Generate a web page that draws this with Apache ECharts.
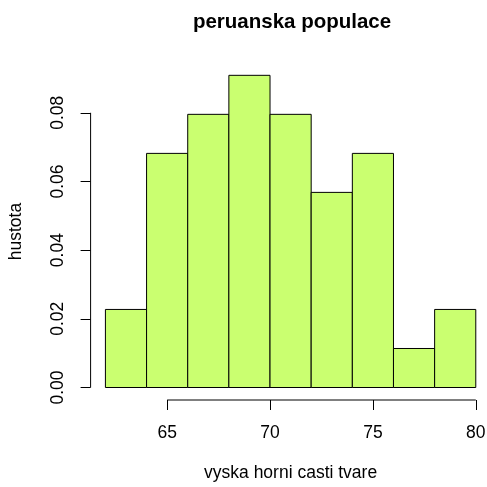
<!DOCTYPE html>
<html>
<head>
<meta charset="utf-8">
<script src="https://cdn.jsdelivr.net/npm/echarts@6/dist/echarts.min.js"></script>
<style>
  html, body { margin: 0; padding: 0; background: #fff; }
  #chart { width: 487px; height: 487px; }
</style>
</head>
<body>
<div id="chart"></div>
<script>
// Histogram bins (left edges / right edges) and density per bin
const binStarts = [62, 64, 66, 68, 70, 72, 74, 76, 78];
const binEnds   = [64, 66, 68, 70, 72, 74, 76, 78, 80];
const densities = [0.02273, 0.06818, 0.07955, 0.09091, 0.07955, 0.05682, 0.06818, 0.01136, 0.02273];
const xTicks = [65, 70, 75, 80];
const yTicks = [0, 0.02, 0.04, 0.06, 0.08];

// plotting ranges padded by 4% on each side, like base R graphics
const xMin = 61.28, xMax = 80.72;
const yMin = -0.00364, yMax = 0.0945;

const FONT = 'Liberation Sans, Arial, sans-serif';
const LABEL_SIZE = 17.5;
const chart = echarts.init(document.getElementById('chart'), null, { renderer: 'canvas' });

const barData = binStarts.map((s, i) => [s, binEnds[i], densities[i]]);

chart.setOption({
  animation: false,
  backgroundColor: '#ffffff',
  title: {
    text: 'peruanska populace',
    left: 287, top: 7, textAlign: 'center',
    textStyle: { fontFamily: FONT, fontSize: 20.5, fontWeight: 'bold', color: '#000' }
  },
  grid: { left: 90.6, top: 63, width: 400, height: 337, outerBoundsMode: 'none', containLabel: false },
  xAxis: {
    type: 'value', min: xMin, max: xMax,
    name: 'vyska horni casti tvare', nameLocation: 'middle', nameGap: 64, nameMoveOverlap: false,
    nameTextStyle: { fontFamily: FONT, fontSize: LABEL_SIZE, color: '#000' },
    axisLine: { show: false, onZero: false },
    splitLine: { show: false },
    axisTick: { show: true, length: 10, customValues: xTicks, lineStyle: { color: '#000', width: 1 } },
    axisLabel: { customValues: xTicks, margin: 24, fontFamily: FONT, fontSize: LABEL_SIZE, color: '#000' }
  },
  yAxis: {
    type: 'value', min: yMin, max: yMax,
    name: 'hustota', nameLocation: 'middle', nameGap: 65, nameRotate: 90, nameMoveOverlap: false,
    nameTextStyle: { fontFamily: FONT, fontSize: LABEL_SIZE, color: '#000' },
    axisLine: { show: false, onZero: false },
    splitLine: { show: false },
    axisTick: { show: true, length: 10, customValues: yTicks, lineStyle: { color: '#000', width: 1 } },
    axisLabel: {
      customValues: yTicks, rotate: 90, margin: 23,
      fontFamily: FONT, fontSize: LABEL_SIZE, color: '#000',
      formatter: v => v.toFixed(2)
    }
  },
  series: [
    {
      type: 'custom',
      data: barData,
      clip: false,
      renderItem: (params, api) => {
        const p0 = api.coord([api.value(0), 0]);
        const p1 = api.coord([api.value(1), api.value(2)]);
        return {
          type: 'rect',
          shape: { x: p0[0], y: p1[1], width: p1[0] - p0[0], height: p0[1] - p1[1] },
          style: { fill: '#CAFF70', stroke: '#000', lineWidth: 1 }
        };
      }
    },
    {
      // bottom axis line spanning the labelled ticks
      type: 'line', clip: false, symbol: 'none', silent: true,
      data: [[xTicks[0], yMin], [xTicks[xTicks.length - 1], yMin]],
      lineStyle: { color: '#000', width: 1 }
    },
    {
      // left axis line spanning the labelled ticks
      type: 'line', clip: false, symbol: 'none', silent: true,
      data: [[xMin, yTicks[0]], [xMin, yTicks[yTicks.length - 1]]],
      lineStyle: { color: '#000', width: 1 }
    }
  ]
});
</script>
</body>
</html>
